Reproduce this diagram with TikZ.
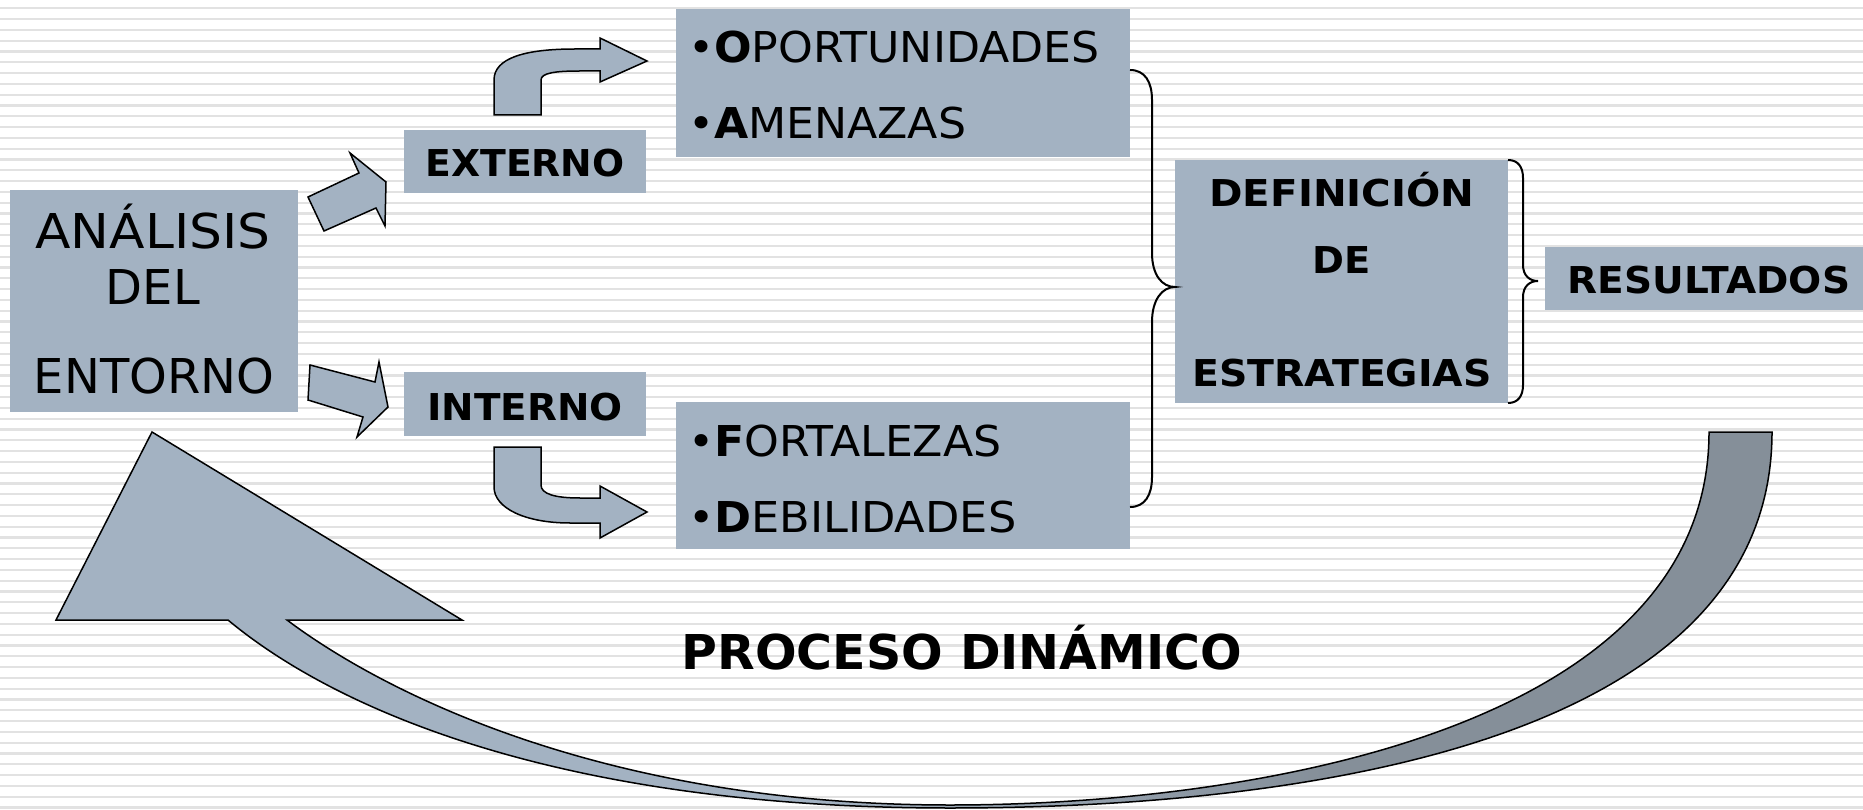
\documentclass[tikz,border=0pt]{standalone}
\usepackage{fontspec}
\setmainfont{DejaVu Sans}
\usetikzlibrary{calc}
\definecolor{boxfill}{RGB}{163,178,194}
\definecolor{darkfill}{RGB}{133,143,153}
\definecolor{stripecol}{RGB}{226,226,226}
\pgfdeclarehorizontalshading{bigarrowshade}{100bp}{color(0bp)=(boxfill); color(47bp)=(boxfill); color(62bp)=(darkfill); color(100bp)=(darkfill)}
\newcommand{\wx}[2]{\scalebox{#1}[1]{#2}}
\begin{document}
\begin{tikzpicture}[x=1pt,y=-1pt,
  box/.style={fill=boxfill, draw=none, inner sep=0pt, outer sep=0pt, anchor=north west},
  txt/.style={anchor=base, inner sep=0pt, outer sep=0pt},
  ltxt/.style={anchor=base west, inner sep=0pt, outer sep=0pt, font=\fontsize{42.5}{43}\selectfont},
  blockarrow/.style={fill=boxfill, draw=black, line width=1.5pt, line join=miter},
  bracestyle/.style={draw=black, line width=2pt},
  stripeline/.style={draw=stripecol, line width=2.2pt}]
\useasboundingbox (0,0) rectangle (1863,810);
\fill[white] (0,0) rectangle (1863,810);
\foreach \i in {0,...,74} {
  \draw[stripeline] (0,{8.3+\i*10.8}) -- (1863,{8.3+\i*10.8});
}
% boxes
\node[box, minimum width=288pt, minimum height=222pt] (analisis) at (10,190) {};
\node[box, minimum width=242pt, minimum height=63pt] (externo) at (404,130) {};
\node[box, minimum width=242pt, minimum height=64pt] (interno) at (404,372) {};
\node[box, minimum width=454pt, minimum height=148pt] (oa) at (676,9) {};
\node[box, minimum width=454pt, minimum height=147pt] (fd) at (676,402) {};
\node[box, minimum width=333pt, minimum height=243pt] (def) at (1175,160) {};
\node[box, minimum width=318pt, minimum height=63pt] (res) at (1545,247) {};
% texts
\node[txt, font=\fontsize{48}{48}\selectfont] (t-an) at (153,249) {\wx{1.08}{ANÁLISIS}};
\node[txt, font=\fontsize{48}{48}\selectfont] (t-del) at (153,305) {DEL};
\node[txt, font=\fontsize{48}{48}\selectfont] (t-ent) at (154,393) {ENTORNO};
\node[txt, font=\fontsize{37}{37}\selectfont\bfseries] (t-ext) at (525,177) {\wx{1.02}{EXTERNO}};
\node[txt, font=\fontsize{37}{37}\selectfont\bfseries] (t-int) at (525,420) {\wx{1.05}{INTERNO}};
\node[ltxt] (t-op) at (688,63) {\wx{1.04}{•\textbf{O}PORTUNIDADES}};
\node[ltxt] (t-am) at (688,139) {\wx{1.04}{•\textbf{A}MENAZAS}};
\node[ltxt] (t-fo) at (688,456) {\wx{1.04}{•\textbf{F}ORTALEZAS}};
\node[ltxt] (t-de) at (688,532) {\wx{1.05}{•\textbf{D}EBILIDADES}};
\node[txt, font=\fontsize{37}{37}\selectfont\bfseries] (t-def) at (1342,207) {\wx{1.09}{DEFINICIÓN}};
\node[txt, font=\fontsize{37}{37}\selectfont\bfseries] (t-de2) at (1342,274) {\wx{1.04}{DE}};
\node[txt, font=\fontsize{37}{37}\selectfont\bfseries] (t-est) at (1342,386) {\wx{1.065}{ESTRATEGIAS}};
\node[txt, font=\fontsize{37}{37}\selectfont\bfseries] (t-res) at (1709,294) {\wx{1.055}{RESULTADOS}};
\node[txt, font=\fontsize{48}{48}\selectfont\bfseries] (t-proc) at (962,669) {\wx{1.02}{PROCESO DINÁMICO}};
% block arrows from ANALISIS
\draw[blockarrow] (308,197) -- (359,173) -- (350,153) -- (386,182) -- (385,226) -- (376,208) -- (324,231) -- cycle;
\draw[blockarrow] (310,365) -- (375,382) -- (379,362) -- (388,407) -- (357,437) -- (363,417) -- (308,400) -- cycle;
% curved arrows
\draw[blockarrow] (494,115) -- (494,80) .. controls (494,58) and (525,49) .. (575,49) -- (600,49) -- (600,38) -- (647,61) -- (600,82) -- (600,71) -- (580,71) .. controls (555,71) and (541,73) .. (541,80) -- (541,115) -- cycle;
\draw[blockarrow] (494,447) -- (541,447) -- (541,485) .. controls (541,494) and (555,498) .. (580,498) -- (600,498) -- (600,486) -- (647,512) -- (600,538) -- (600,523) -- (570,523) .. controls (525,523) and (494,508) .. (494,487) -- cycle;
% braces
\coordinate (b1a) at (1130,70);
\coordinate (b1b) at (1130,507);
\coordinate (b1tip) at (def.west |- 0,287);
\draw[bracestyle] (b1a) .. controls (1145,70) and (1152,82) .. (1152,100) -- (1152,253) .. controls (1152,275) and (1162,287) .. (b1tip) .. controls (1162,287) and (1152,300) .. (1152,322) -- (1152,477) .. controls (1152,495) and (1145,507) .. (b1b);
\coordinate (b2tip) at (1538,281);
\draw[bracestyle] (def.north east) .. controls (1518,160) and (1523,167) .. (1523,178) -- (1523,265) .. controls (1523,275) and (1529,281) .. (b2tip) .. controls (1529,281) and (1523,287) .. (1523,297) -- (1523,385) .. controls (1523,396) and (1518,403) .. (def.south east);
% big return arrow
\path[shading=bigarrowshade, draw=black, line width=1.5pt, line join=miter]
  (1772,432) .. controls (1772,760) and (1250,808) .. (950,808)
  .. controls (550,808) and (330,705) .. (228,620)
  -- (56,620) -- (152,432) -- (462,620) -- (287,620)
  .. controls (380,690) and (600,805) .. (950,805)
  .. controls (1250,805) and (1709,730) .. (1709,432) -- cycle;
\end{tikzpicture}
\end{document}
